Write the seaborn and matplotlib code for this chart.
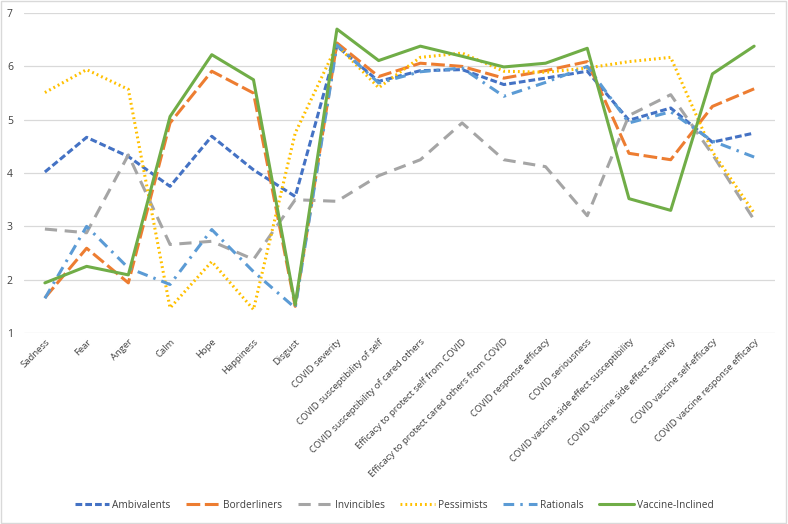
import matplotlib
matplotlib.use("Agg")
import matplotlib.pyplot as plt
import seaborn as sns
import pandas as pd
from matplotlib.patches import Rectangle
from matplotlib.lines import Line2D

categories = ["Sadness", "Fear", "Anger", "Calm", "Hope", "Happiness", "Disgust",
              "COVID severity", "COVID susceptibility of self",
              "COVID susceptibility of cared others",
              "Efficacy to protect self from COVID",
              "Efficacy to protect cared others from COVID",
              "COVID response efficacy", "COVID seriousness",
              "COVID vaccine side effect susceptibility",
              "COVID vaccine side effect severity",
              "COVID vaccine self-efficacy", "COVID vaccine response efficacy"]

ambivalents = [4.02, 4.67, 4.31, 3.75, 4.69, 4.06, 3.56, 6.38, 5.72, 5.92, 5.94, 5.66, 5.78, 5.91, 4.99, 5.22, 4.58, 4.75]
borderliners = [1.66, 2.59, 1.94, 4.94, 5.91, 5.50, 1.50, 6.44, 5.81, 6.06, 6.00, 5.78, 5.92, 6.09, 4.37, 4.25, 5.25, 5.58]
invincibles = [2.95, 2.88, 4.34, 2.66, 2.72, 2.38, 3.50, 3.47, 3.95, 4.25, 4.94, 4.25, 4.12, 3.20, 5.08, 5.47, 4.35, 3.12]
pessimists = [5.51, 5.94, 5.57, 1.47, 2.34, 1.44, 4.75, 6.40, 5.60, 6.17, 6.25, 5.91, 5.89, 5.97, 6.09, 6.17, 4.40, 3.25]
rationals = [1.65, 3.00, 2.22, 1.91, 2.94, 2.15, 1.47, 6.40, 5.69, 5.90, 5.97, 5.44, 5.70, 6.00, 4.94, 5.15, 4.60, 4.30]
vaccine_inclined = [1.94, 2.25, 2.09, 5.06, 6.22, 5.75, 1.53, 6.70, 6.11, 6.38, 6.19, 5.99, 6.06, 6.34, 3.52, 3.30, 5.86, 6.38]

series = {
    "Ambivalents": ambivalents,
    "Borderliners": borderliners,
    "Invincibles": invincibles,
    "Pessimists": pessimists,
    "Rationals": rationals,
    "Vaccine-Inclined": vaccine_inclined,
}
colors = {
    "Ambivalents": "#4472C4",
    "Borderliners": "#ED7D31",
    "Invincibles": "#A5A5A5",
    "Pessimists": "#FFC000",
    "Rationals": "#5B9BD5",
    "Vaccine-Inclined": "#70AD47",
}
dashes = {
    "Ambivalents": (2.2, 1.0),
    "Borderliners": (4.5, 1.5),
    "Invincibles": (4.0, 2.5),
    "Pessimists": (0.6, 1.0),
    "Rationals": (3.5, 2.0, 0.8, 2.0),
    "Vaccine-Inclined": "",
}

rows = []
for name, vals in series.items():
    for i, (c, v) in enumerate(zip(categories, vals)):
        rows.append({"idx": i, "cat": c, "value": v, "group": name})
df = pd.DataFrame(rows)

sns.set_theme(style="white")
plt.rcParams['font.family'] = ['Open Sans', 'DejaVu Sans']

fig = plt.figure(figsize=(7.88, 5.24), dpi=100)
ax = fig.add_axes([0.0305, 0.3645, 0.953, 0.6105])

sns.lineplot(data=df, x="idx", y="value", hue="group", style="group",
             palette=colors, dashes=dashes, linewidth=2.2, ax=ax,
             legend=False, sort=False)

ax.set_xlim(-0.5, len(categories) - 0.5)
ax.set_ylim(1, 7)
ax.set_yticks(range(1, 8))
ax.set_xticks(range(len(categories)))
ax.set_xticklabels(categories, rotation=45, ha="right", rotation_mode="anchor",
                   fontsize=6.8, color="#404040")
ax.tick_params(axis="y", labelsize=7.5, colors="#404040", length=0, pad=8)
ax.tick_params(axis="x", length=0, pad=3)
ax.yaxis.grid(True, color="#D9D9D9", linewidth=0.9)
ax.xaxis.grid(False)
for s in ax.spines.values():
    s.set_visible(False)
ax.set_xlabel("")
ax.set_ylabel("")

handles = []
for name in series:
    d = dashes[name]
    h = Line2D([0], [0], color=colors[name], linewidth=2.2,
               linestyle=(0, d) if d else "-")
    handles.append(h)
fig.legend(handles, list(series.keys()), loc="center", bbox_to_anchor=(0.5, 0.036),
           ncol=6, frameon=False, fontsize=7.3, handlelength=3.4,
           columnspacing=1.5, handletextpad=0.3, labelcolor="#404040")

fig.patches.append(Rectangle((0.001, 0.001), 0.997, 0.997, transform=fig.transFigure,
                             fill=False, edgecolor="#D9D9D9", linewidth=1.0))

fig.savefig("out.png", dpi=100)
